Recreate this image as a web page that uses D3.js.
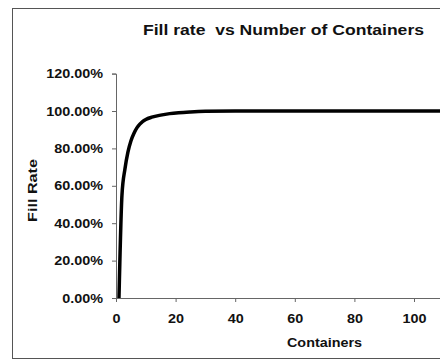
<!DOCTYPE html>
<html>
<head>
<meta charset="utf-8">
<script src="https://cdn.jsdelivr.net/npm/d3@7"></script>
<style>
  html, body { margin: 0; padding: 0; background: #fff; }
  svg { display: block; }
  text { font-family: "Liberation Sans", Arial, sans-serif; font-weight: bold; fill: #111; }
</style>
</head>
<body>
<svg id="chart" width="440" height="362"></svg>
<script>
// Fill rate (fraction) by number of containers
const containers = [1, 2, 3, 4, 5, 6, 7, 8, 9, 10, 12, 15, 18, 21, 25, 30, 40, 50, 60, 70, 80, 90, 100, 110, 120];
const fillRate   = [0, 0.55, 0.69, 0.78, 0.84, 0.88, 0.91, 0.93, 0.945, 0.955, 0.967, 0.978, 0.986, 0.991, 0.995, 0.998, 0.9995, 1, 1, 1, 1, 1, 1, 1, 1];
const xTicks = [0, 20, 40, 60, 80, 100];
const yTicks = [0, 0.2, 0.4, 0.6, 0.8, 1.0, 1.2];

const title = "Fill rate  vs Number of Containers";
const xTitle = "Containers";
const yTitle = "Fill Rate";

const svg = d3.select("#chart");

// Outer chart frame
svg.append("rect")
  .attr("x", 12.5).attr("y", 8.5)
  .attr("width", 460).attr("height", 350)
  .attr("fill", "#fff").attr("stroke", "#555").attr("stroke-width", 1);

const x = d3.scaleLinear().domain([0, 120]).range([116, 473.6]);
const y = d3.scaleLinear().domain([0, 1.2]).range([298, 73.6]);

// Stretch text horizontally along its baseline by factor k
function widen(sel, k) {
  sel.each(function () {
    const w = this.getComputedTextLength();
    d3.select(this).attr("textLength", w * k).attr("lengthAdjust", "spacingAndGlyphs");
  });
}

// Y axis
const yAxis = svg.append("g")
  .attr("transform", `translate(${x(0)},0)`)
  .call(d3.axisLeft(y).tickValues(yTicks).tickFormat(d3.format(".2%")).tickSize(4).tickPadding(9));
yAxis.select(".domain").attr("stroke", "#666");
yAxis.selectAll(".tick line").attr("stroke", "#666");
yAxis.selectAll(".tick text")
  .attr("font-size", 12.5).attr("font-family", null).attr("fill", "#111");
widen(yAxis.selectAll(".tick text"), 1.15);

// X axis (line runs on to the right edge)
const xAxis = svg.append("g")
  .attr("transform", `translate(0,${y(0)})`)
  .call(d3.axisBottom(x).tickValues(xTicks).tickFormat(d3.format("d")).tickSize(4).tickPadding(12));
xAxis.select(".domain").attr("stroke", "#666");
xAxis.selectAll(".tick line").attr("stroke", "#666");
xAxis.selectAll(".tick text")
  .attr("font-size", 12.5).attr("font-family", null).attr("fill", "#111");
widen(xAxis.selectAll(".tick text"), 1.15);

// Curve
const line = d3.line()
  .x((d, i) => x(containers[i]))
  .y(d => y(d))
  .curve(d3.curveMonotoneX);

svg.append("path")
  .datum(fillRate)
  .attr("d", line)
  .attr("fill", "none")
  .attr("stroke", "#000")
  .attr("stroke-width", 3.5)
  .attr("stroke-linejoin", "round");

// Titles
const t = svg.append("text")
  .attr("x", 283.5).attr("y", 35)
  .attr("text-anchor", "middle")
  .attr("font-size", 14)
  .attr("xml:space", "preserve")
  .style("white-space", "pre")
  .text(title);
t.attr("textLength", 281).attr("lengthAdjust", "spacingAndGlyphs");

svg.append("text")
  .attr("x", 324.5).attr("y", 346.5)
  .attr("text-anchor", "middle")
  .attr("font-size", 12.5)
  .attr("textLength", 75).attr("lengthAdjust", "spacingAndGlyphs")
  .text(xTitle);

svg.append("text")
  .attr("transform", "translate(37,190.5) rotate(-90)")
  .attr("text-anchor", "middle")
  .attr("font-size", 12.5)
  .attr("textLength", 63).attr("lengthAdjust", "spacingAndGlyphs")
  .text(yTitle);
</script>
</body>
</html>
